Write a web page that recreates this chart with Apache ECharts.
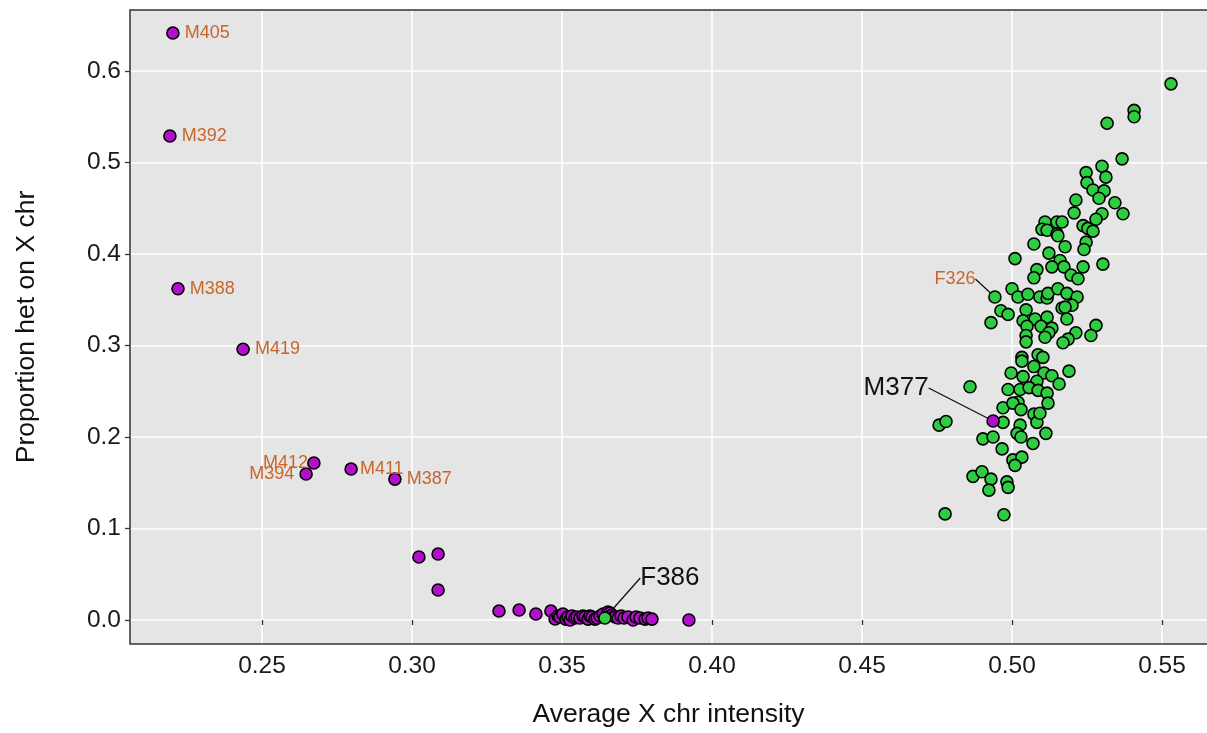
<!DOCTYPE html>
<html>
<head>
<meta charset="utf-8">
<title>Average X chr intensity vs proportion het on X chr</title>
<script src="https://cdn.jsdelivr.net/npm/echarts@6/dist/echarts.min.js"></script>
<style>
  html, body { margin: 0; padding: 0; background: #ffffff; }
  #chart { width: 1207px; height: 733px; }
</style>
</head>
<body>
<div id="chart"></div>
<script>
// Samples reported as female (green): average X intensity and X heterozygosity
const femaleX = [
  0.553, 0.5407, 0.5407, 0.5317, 0.5367, 0.530, 0.5247, 0.5313, 0.525, 0.527,
  0.5307, 0.529, 0.5213, 0.5343, 0.537, 0.530, 0.5207, 0.528, 0.5237, 0.5253,
  0.527, 0.511, 0.515, 0.5167, 0.510, 0.5117, 0.515, 0.5153, 0.5247, 0.524,
  0.5073, 0.5177, 0.5123, 0.501, 0.516, 0.5303, 0.5133, 0.5173, 0.5237, 0.5083,
  0.5073, 0.5197, 0.522, 0.500, 0.502, 0.5053, 0.5093, 0.5117, 0.512, 0.5153,
  0.5183, 0.5217, 0.520, 0.5167, 0.5177, 0.4963, 0.4987, 0.5047, 0.493, 0.5037,
  0.5077, 0.5117, 0.5183, 0.5097, 0.505, 0.5133, 0.5123, 0.511, 0.528, 0.5263,
  0.5213, 0.5187, 0.517, 0.5047, 0.5047, 0.5033, 0.5087, 0.5103, 0.5033, 0.5073,
  0.519, 0.4997, 0.5037, 0.5107, 0.5133, 0.5157, 0.5083, 0.486, 0.4987, 0.5027,
  0.5057, 0.5087, 0.5117, 0.512, 0.502, 0.497, 0.5003, 0.503, 0.5073, 0.5083,
  0.5093, 0.497, 0.5027, 0.5017, 0.5113, 0.503, 0.4903, 0.4937, 0.507, 0.4967,
  0.5003, 0.5033, 0.501, 0.4757, 0.478, 0.487, 0.490, 0.493, 0.4923, 0.4983,
  0.4987, 0.4777, 0.4973
];
const femaleY = [
  0.586, 0.557, 0.550, 0.543, 0.504, 0.496, 0.489, 0.484, 0.478, 0.470,
  0.469, 0.461, 0.459, 0.456, 0.444, 0.444, 0.445, 0.438, 0.431, 0.428,
  0.425, 0.435, 0.435, 0.435, 0.427, 0.426, 0.422, 0.420, 0.413, 0.405,
  0.411, 0.408, 0.401, 0.395, 0.393, 0.389, 0.386, 0.386, 0.386, 0.383,
  0.374, 0.377, 0.373, 0.362, 0.353, 0.356, 0.353, 0.352, 0.357, 0.362,
  0.357, 0.353, 0.344, 0.341, 0.342, 0.338, 0.334, 0.339, 0.325, 0.327,
  0.329, 0.331, 0.329, 0.321, 0.321, 0.319, 0.314, 0.309, 0.322, 0.311,
  0.314, 0.307, 0.303, 0.311, 0.304, 0.287, 0.290, 0.287, 0.283, 0.277,
  0.272, 0.270, 0.266, 0.270, 0.267, 0.258, 0.261, 0.255, 0.252, 0.252,
  0.254, 0.251, 0.248, 0.237, 0.238, 0.232, 0.237, 0.230, 0.225, 0.216,
  0.226, 0.216, 0.213, 0.204, 0.204, 0.200, 0.198, 0.200, 0.193, 0.187,
  0.175, 0.178, 0.169, 0.213, 0.217, 0.157, 0.162, 0.154, 0.142, 0.151,
  0.145, 0.116, 0.115
];

// Samples reported as male (purple)
const maleX = [
  0.3023, 0.3087, 0.3087, 0.329, 0.3357, 0.3413, 0.3463, 0.3923,
  0.3477, 0.3487, 0.3493, 0.3503, 0.3513, 0.352, 0.3527, 0.3533, 0.3543, 0.355,
  0.356, 0.357, 0.3577, 0.3587, 0.3593, 0.360, 0.361, 0.3617, 0.3627, 0.3637,
  0.3653, 0.366, 0.3667, 0.3677, 0.3687, 0.3697, 0.3707, 0.372, 0.3737, 0.3747,
  0.376, 0.3777, 0.3787, 0.380
];
const maleY = [
  0.0689, 0.0721, 0.0328, 0.0098, 0.0109, 0.0066, 0.0098, 0.0,
  0.0011, 0.0044, 0.0033, 0.0066, 0.0010, 0.0033, 0.0, 0.0044, 0.0022, 0.0033,
  0.0022, 0.0044, 0.0033, 0.0010, 0.0044, 0.0033, 0.0010, 0.0022, 0.0044, 0.0066,
  0.0087, 0.0077, 0.0055, 0.0033, 0.0022, 0.0044, 0.0022, 0.0033, 0.0, 0.0033,
  0.0022, 0.0010, 0.0022, 0.0010
];

// Named samples
const namedIds = ['M405', 'M392', 'M388', 'M419', 'M412', 'M394', 'M411', 'M387', 'M377', 'F326', 'F386'];
const namedX   = [0.2203, 0.2193, 0.222, 0.2437, 0.2673, 0.2647, 0.2797, 0.2943, 0.4937, 0.4943, 0.3643];
const namedY   = [0.6415, 0.529, 0.362, 0.296, 0.1716, 0.1596, 0.165, 0.154, 0.2175, 0.353, 0.0022];

// Axis tick values
const xTicks = [0.25, 0.30, 0.35, 0.40, 0.45, 0.50, 0.55];
const yTicks = [0.0, 0.1, 0.2, 0.3, 0.4, 0.5, 0.6];

const FONT = '"Liberation Sans", Arial, Helvetica, sans-serif';
const PURPLE = '#B10FCB';
const GREEN = '#2ECC40';
const ORANGE = '#C9652B';

// label placement for each named sample
const labelStyle = {
  M405: { position: 'right', distance: 5, offset: [0, 0] },
  M392: { position: 'right', distance: 5, offset: [0, 0] },
  M388: { position: 'right', distance: 5, offset: [0, 0] },
  M419: { position: 'right', distance: 5, offset: [0, 0] },
  M412: { position: 'left', distance: -1, offset: [0, -6] },
  M394: { position: 'left', distance: 5, offset: [0, 1] },
  M411: { position: 'right', distance: 2, offset: [0, -8] },
  M387: { position: 'right', distance: 5, offset: [0, 1] }
};
// labels moved away from their point and joined to it by a guide line
const leaderShift = {
  M377: [-97, -33],
  F326: [-40, -18],
  F386: [65, -40]
};

const xMin = 0.206, xMax = 0.565;
const yMin = -0.0262, yMax = 0.6667;

// plot panel placement
const GRID = { left: 130, right: -2, top: 10, bottom: 89 };
const W = 1207, H = 733;

const pointStyle = (color) => ({ color: color, borderColor: '#000', borderWidth: 1.6, opacity: 1 });

const namedData = namedIds.map((id, i) => {
  const isMale = id.charAt(0) === 'M';
  const item = {
    name: id,
    value: [namedX[i], namedY[i]],
    itemStyle: pointStyle(isMale ? PURPLE : GREEN)
  };
  if (leaderShift[id]) {
    const big = id !== 'F326';
    item.label = {
      show: true, position: 'inside', formatter: '{b}',
      color: big ? '#111' : ORANGE, fontSize: big ? 26 : 18, fontFamily: FONT
    };
    item.labelLine = { show: true, lineStyle: { color: '#111', width: 1.3 } };
  } else {
    const s = labelStyle[id];
    item.label = {
      show: true, position: s.position, distance: s.distance, offset: s.offset,
      formatter: '{b}', color: ORANGE, fontSize: 18, fontFamily: FONT
    };
  }
  return item;
});

const chart = echarts.init(document.getElementById('chart'), null, { renderer: 'canvas' });

const axisCommon = {
  type: 'value',
  nameLocation: 'middle',
  nameTextStyle: { color: '#111', fontSize: 26.5, fontFamily: FONT },
  axisLine: { show: false },
  splitLine: { show: true, lineStyle: { color: '#ffffff', width: 1.6 } }
};

chart.setOption({
  animation: false,
  backgroundColor: '#ffffff',
  grid: Object.assign({ show: true, backgroundColor: '#E5E5E5', borderWidth: 0 }, GRID),
  xAxis: Object.assign({}, axisCommon, {
    name: 'Average X chr intensity',
    nameGap: 57,
    min: xMin, max: xMax, splitNumber: 7,
    axisTick: { show: true, length: 5, customValues: xTicks, lineStyle: { color: '#333', width: 1.3 } },
    axisLabel: {
      color: '#1a1a1a', fontSize: 24.5, fontFamily: FONT, margin: 10,
      customValues: xTicks, formatter: (v) => v.toFixed(2)
    }
  }),
  yAxis: Object.assign({}, axisCommon, {
    name: 'Proportion het on X chr',
    nameGap: 90,
    min: yMin, max: yMax, splitNumber: 7,
    axisTick: { show: true, length: 5, customValues: yTicks, lineStyle: { color: '#333', width: 1.3 } },
    axisLabel: {
      color: '#1a1a1a', fontSize: 24.5, fontFamily: FONT, margin: 9,
      customValues: yTicks, formatter: (v) => v.toFixed(1)
    }
  }),
  // dark frame round the plot panel
  graphic: [{
    type: 'rect', silent: true, z: 100,
    shape: {
      x: GRID.left, y: GRID.top,
      width: W - GRID.left - GRID.right, height: H - GRID.top - GRID.bottom
    },
    style: { fill: null, stroke: '#333', lineWidth: 1.5 }
  }],
  series: [
    {
      type: 'scatter', name: 'female', symbolSize: 12,
      data: femaleX.map((x, i) => [x, femaleY[i]]),
      itemStyle: pointStyle(GREEN), z: 2
    },
    {
      type: 'scatter', name: 'male', symbolSize: 12,
      data: maleX.map((x, i) => [x, maleY[i]]),
      itemStyle: pointStyle(PURPLE), z: 3
    },
    {
      type: 'scatter', name: 'named', symbolSize: 12,
      data: namedData, z: 4,
      labelLayout: function (p) {
        const id = namedIds[p.dataIndex];
        const s = leaderShift[id];
        return s ? { dx: s[0], dy: s[1] } : {};
      }
    }
  ]
});
</script>
</body>
</html>
